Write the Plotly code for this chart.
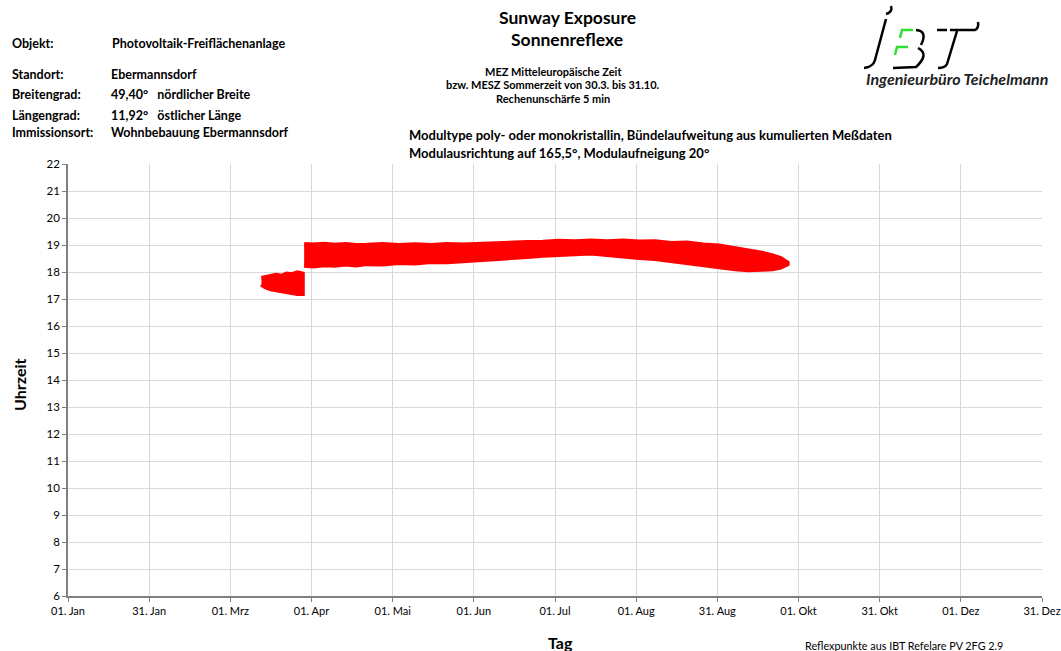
import plotly.graph_objects as go

# day-of-year axis, 12 equal steps like the original
tick_labels = ["01. Jan", "31. Jan", "01. Mrz", "01. Apr", "01. Mai", "01. Jun",
               "01. Jul", "01. Aug", "31. Aug", "01. Okt", "31. Okt", "01. Dez", "31. Dez"]
tick_days = [i * 365 / 12 for i in range(13)]

# reflection band before the DST switch (MEZ)
days_mez = [72.5, 74, 76, 78, 80, 82, 84, 86, 87.8]
upper_mez = [17.76, 17.8, 17.84, 17.88, 17.84, 17.92, 17.9, 17.97, 17.93]
lower_mez = [17.55, 17.45, 17.38, 17.32, 17.3, 17.24, 17.24, 17.2, 17.2]

# reflection band after the DST switch (MESZ)
days_mesz = [88.5, 92, 96, 100, 104, 108, 112, 118, 124, 130, 136, 142, 148, 154, 160,
             166, 172, 178, 184, 190, 196, 202, 208, 214, 220, 226, 232, 238, 244,
             250, 255, 260, 264, 267, 269.5]
upper_mesz = [19.02, 19.0, 19.03, 18.99, 19.02, 18.98, 18.99, 19.02, 18.98, 19.01, 18.98, 19.02,
              19.0, 19.03, 19.05, 19.06, 19.09, 19.1, 19.14, 19.12, 19.15, 19.12, 19.15, 19.11,
              19.12, 19.06, 19.07, 19.0, 18.96, 18.86, 18.8, 18.7, 18.6, 18.5, 18.34]
lower_mesz = [18.25, 18.22, 18.27, 18.25, 18.3, 18.26, 18.31, 18.3, 18.35, 18.33, 18.39, 18.38,
              18.43, 18.46, 18.5, 18.53, 18.57, 18.62, 18.66, 18.68, 18.7, 18.64, 18.6, 18.54,
              18.5, 18.42, 18.38, 18.28, 18.2, 18.12, 18.08, 18.1, 18.12, 18.18, 18.3]

W, H = 1061, 651
L, R, T, B = 68, 1042, 164, 596


def px(x):
    return (x - L) / (R - L)


def py(y):
    return (B - y) / (B - T)


FONT = "Lato, 'DejaVu Sans', sans-serif"
RED = "#ff0000"

fig = go.Figure()
for d, up, lo in [(days_mez, upper_mez, lower_mez), (days_mesz, upper_mesz, lower_mesz)]:
    fig.add_trace(go.Scatter(
        x=d + d[::-1], y=up + lo[::-1],
        mode="lines", fill="toself", fillcolor=RED,
        line=dict(color=RED, width=5), hoverinfo="skip", showlegend=False,
    ))

fig.update_xaxes(
    range=[0, 365], tickvals=tick_days, ticktext=tick_labels,
    showgrid=True, gridcolor="#d9d9d9", gridwidth=1,
    showline=True, linecolor="#808080", linewidth=1.5,
    ticks="outside", ticklen=4, tickcolor="#808080",
    tickfont=dict(family=FONT, size=11, color="black"), zeroline=False,
)
fig.update_yaxes(
    range=[6, 22], dtick=1, showgrid=True, gridcolor="#d9d9d9", gridwidth=1,
    showline=True, linecolor="#808080", linewidth=1.5,
    ticks="outside", ticklen=4, tickcolor="#808080",
    tickfont=dict(family=FONT, size=11.5, color="black"), zeroline=False,
)

ann = []


def text(x, y, s, size=11, bold=True, anchor="left", italic=False, color="black"):
    if bold:
        s = "<b>" + s + "</b>"
    if italic:
        s = "<i>" + s + "</i>"
    ann.append(dict(x=px(x), y=py(y), xref="paper", yref="paper", text=s,
                    showarrow=False, xanchor=anchor, yanchor="middle",
                    font=dict(family=FONT, size=size, color=color)))


# left header block
text(10, 43, "Objekt:", 12.5)
text(110, 43, "Photovoltaik-Freiflächenanlage", 12.5)
text(10, 75, "Standort:", 12.5)
text(109, 75, "Ebermannsdorf", 12.5)
text(10, 95, "Breitengrad:", 12.5)
text(109, 94, "49,40°&nbsp;&nbsp;&nbsp;nördlicher Breite", 12.5)
text(10, 115, "Längengrad:", 12.5)
text(109, 115, "11,92°&nbsp;&nbsp;&nbsp;östlicher Länge", 12.5)
text(10, 133, "Immissionsort:", 12.5)
text(109, 133, "Wohnbebauung Ebermannsdorf", 12.5)

# centre titles
text(567, 18, "Sunway Exposure", 17.5, anchor="center")
text(567, 39, "Sonnenreflexe", 17.5, anchor="center")
text(553, 71, "MEZ Mitteleuropäische Zeit", 11, anchor="center")
text(553, 85, "bzw. MESZ Sommerzeit von 30.3. bis 31.10.", 11, anchor="center")
text(553, 99, "Rechenunschärfe 5 min", 11, anchor="center")
text(407, 135, "Modultype poly- oder monokristallin, Bündelaufweitung aus kumulierten Meßdaten", 13)
text(407, 153, "Modulausrichtung auf 165,5°, Modulaufneigung 20°", 13)

# logo caption
text(957, 79, "Ingenieurbüro Teichelmann", 16, anchor="center", italic=True,
     color="#222222")

# axis titles and footer
text(560, 642, "Tag", 16, anchor="center")
ann.append(dict(x=px(19), y=py(385), xref="paper", yref="paper", text="<b>Uhrzeit</b>",
                showarrow=False, textangle=-90, xanchor="center", yanchor="middle",
                font=dict(family=FONT, size=16, color="black")))
text(904, 645, "Reflexpunkte aus IBT Refelare PV 2FG 2.9", 10.8, bold=False, anchor="center")

# IBT logo strokes
logo_paths = [
    ("M 886,19 L 875,60 Q 873,67 864,68", "black"),
    ("M 886,14 Q 893,12 891,6", "black"),
    ("M 913,30 L 902,30 L 900,38", "#33dd33"),
    ("M 908,47 L 897,47 L 895,55", "#33dd33"),
    ("M 916,30 Q 928,31 921,45", "black"),
    ("M 918,48 Q 930,54 916,67 L 893,68", "black"),
    ("M 937,30 L 947,30", "black"),
    ("M 950,30 L 975,30 Q 979,28 978,22", "black"),
    ("M 957,31 L 947,64 Q 945,68 938,68", "black"),
]


def to_paper(path):
    out = []
    for tok in path.split():
        if "," in tok:
            a, b = tok.split(",")
            out.append(f"{px(float(a)):.5f},{py(float(b)):.5f}")
        else:
            out.append(tok)
    return " ".join(out)


shapes = [dict(type="path", xref="paper", yref="paper", path=to_paper(p),
               line=dict(color=c, width=2.5)) for p, c in logo_paths]

fig.update_layout(
    width=W, height=H,
    margin=dict(l=L, r=W - R, t=T, b=H - B, autoexpand=False),
    plot_bgcolor="white", paper_bgcolor="white",
    annotations=ann, shapes=shapes, showlegend=False,
)

fig.write_html(
    "out.html",
    config={"displayModeBar": False},
    post_script="document.body.style.margin='0';",
)
